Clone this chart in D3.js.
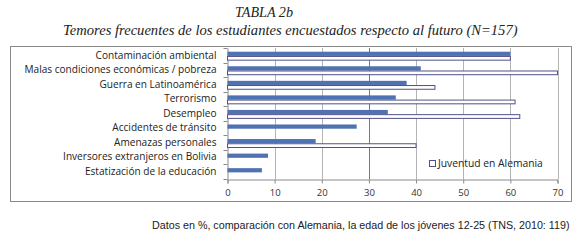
<!DOCTYPE html>
<html><head><meta charset="utf-8">
<script src="https://cdn.jsdelivr.net/npm/d3@7"></script>
<style>body{margin:0;background:#fff}svg{display:block}</style>
</head><body>
<script>
const categories = ["Contaminación ambiental","Malas condiciones económicas / pobreza","Guerra en Latinoamérica","Terrorismo","Desempleo","Accidentes de tránsito","Amenazas personales","Inversores extranjeros en Bolivia","Estatización de la educación"];
const bolivia = [60, 41, 38, 35.7, 34, 27.4, 18.7, 8.6, 7.3];
const alemania = [60, 70, 44, 61, 62, null, 40, null, null];
const xTicks = [0,10,20,30,40,50,60,70];
const titleLines = ["TABLA 2b","Temores frecuentes de los estudiantes encuestados respecto al futuro (N=157)"];
const legendLabel = "Juventud en Alemania";
const caption = "Datos en %, comparación con Alemania, la edad de los jóvenes 12-25 (TNS, 2010: 119)";

const W=579,H=244;
const svg=d3.select("body").append("svg").attr("width",W).attr("height",H);

function fit(sel, width){
  const n=sel.node(); const fs=parseFloat(sel.attr("font-size"));
  const w=n.getComputedTextLength(); if(w>0) sel.attr("font-size", fs*width/w);
  return sel;
}

// titles
fit(svg.append("text").attr("x",235).attr("y",17).attr("font-family","Liberation Serif").attr("font-style","italic")
  .attr("font-size",14).attr("fill","#222").text(titleLines[0]),58);
fit(svg.append("text").attr("x",63).attr("y",35).attr("font-family","Liberation Serif").attr("font-style","italic")
  .attr("font-size",14).attr("fill","#222").text(titleLines[1]),455);

// chart border
svg.append("rect").attr("x",10.5).attr("y",46.5).attr("width",561).attr("height",155)
  .attr("fill","none").attr("stroke","#8a8a8a").attr("stroke-width",1);

const x=d3.scaleLinear().domain([0,70]).range([227.5,557.5]);
const y=d3.scaleBand().domain(categories).range([48,179]).paddingInner(0).paddingOuter(0);
const bw=y.bandwidth();

// gridlines
svg.append("g").selectAll("line").data(xTicks.slice(1)).join("line")
  .attr("x1",d=>Math.round(x(d))+0.5).attr("x2",d=>Math.round(x(d))+0.5)
  .attr("y1",48).attr("y2",179).attr("stroke",d=>d===30?"#7a7a7a":"#b4b4b4").attr("stroke-width",1);

// bottom axis
const xa=svg.append("g").attr("transform","translate(0,179.5)")
  .call(d3.axisBottom(x).tickValues(xTicks).tickSize(4).tickPadding(6));
xa.select(".domain").attr("stroke","#8a8a8a");
xa.selectAll(".tick line").attr("stroke","#8a8a8a");
xa.selectAll("text").attr("font-family","Open Sans").attr("font-size",9.5).attr("fill","#333");

// left axis
const ya=svg.append("g").attr("transform","translate(227.5,0)")
  .call(d3.axisLeft(y).tickSize(0).tickPadding(10));
ya.select(".domain").attr("stroke","#8a8a8a");
ya.selectAll("text").attr("font-family","Open Sans").attr("font-size",9.6).attr("fill","#222");
const longest=ya.selectAll("text").filter(d=>d===categories[1]);
const lw=longest.node().getComputedTextLength();
const fs=9.6*192/lw;
ya.selectAll("text").attr("font-size",fs).attr("x",-11);
svg.append("g").selectAll("line").data(d3.range(categories.length+1)).join("line")
  .attr("x1",223.5).attr("x2",227.5)
  .attr("y1",i=>Math.round(48+i*bw)+0.5).attr("y2",i=>Math.round(48+i*bw)+0.5)
  .attr("stroke","#8a8a8a");

// bars
const bh=bw*0.29;
svg.append("g").selectAll("rect").data(categories).join("rect")
  .attr("x",x(0)).attr("y",d=>y(d)+bw*0.255).attr("height",bh)
  .attr("width",(d,i)=>x(bolivia[i])-x(0)).attr("fill","#4f72b3");
svg.append("g").selectAll("rect").data(categories.map((c,i)=>({c,v:alemania[i]})).filter(d=>d.v!=null)).join("rect")
  .attr("x",x(0)).attr("y",d=>y(d.c)+bw*0.255+bh+0.5).attr("height",bh-0.5)
  .attr("width",d=>x(d.v)-x(0)).attr("fill","#fff").attr("stroke","#50508a").attr("stroke-width",1);

// legend
svg.append("rect").attr("x",429.5).attr("y",160.5).attr("width",6).attr("height",6)
  .attr("fill","#fff").attr("stroke","#50508a");
fit(svg.append("text").attr("x",438).attr("y",167).attr("font-family","Open Sans").attr("font-size",9.5)
  .attr("fill","#222").text(legendLabel),105);

// caption
fit(svg.append("text").attr("x",152).attr("y",229).attr("font-family","Liberation Sans Narrow, Liberation Sans")
  .attr("font-size",11).attr("fill","#222").text(caption),418);
</script>
</body></html>
